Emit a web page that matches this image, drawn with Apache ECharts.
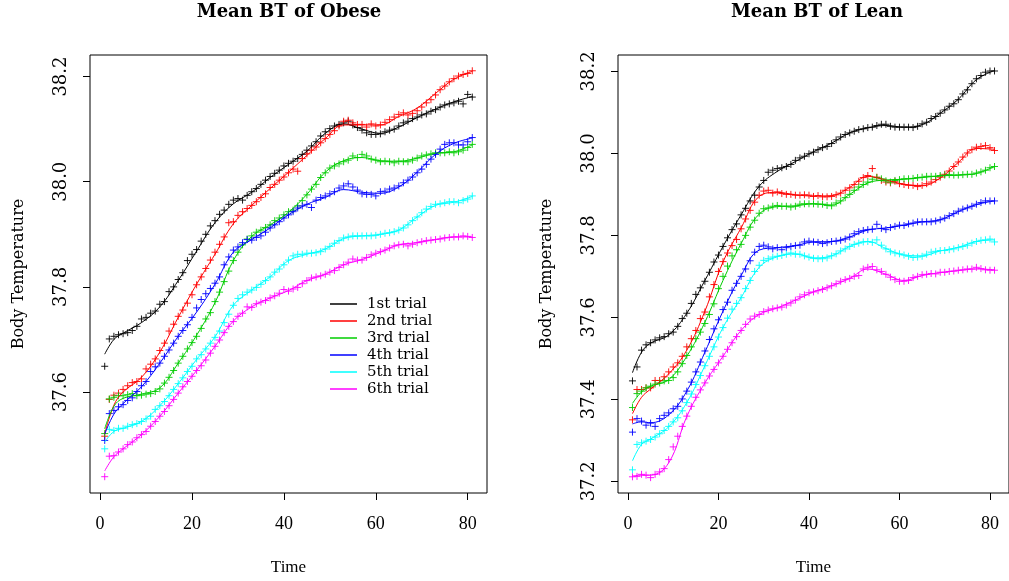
<!DOCTYPE html>
<html><head><meta charset="utf-8">
<script src="https://cdn.jsdelivr.net/npm/echarts@6/dist/echarts.min.js"></script>
<style>html,body{margin:0;padding:0;background:#fff}#c{width:1009px;height:581px}</style>
</head><body><div id="c"></div>
<script>
// ---- data ----
const times = [1,2,3,4,5,6,7,8,9,10,11,12,13,14,15,16,17,18,19,20,21,22,23,24,25,26,27,28,29,30,31,32,33,34,35,36,37,38,39,40,41,42,43,44,45,46,47,48,49,50,51,52,53,54,55,56,57,58,59,60,61,62,63,64,65,66,67,68,69,70,71,72,73,74,75,76,77,78,79,80,81];
const trials = ['1st trial','2nd trial','3rd trial','4th trial','5th trial','6th trial'];
const xTicks = [0,20,40,60,80];
const obeseTicks = [37.6,37.8,38.0,38.2];
const leanTicks = [37.2,37.4,37.6,37.8,38.0,38.2];

// Obese: measured points
const obese1 = [37.649,37.701,37.706,37.709,37.711,37.713,37.717,37.725,37.739,37.742,37.750,37.754,37.767,37.772,37.791,37.800,37.814,37.827,37.850,37.862,37.871,37.887,37.900,37.916,37.926,37.938,37.946,37.957,37.965,37.968,37.965,37.974,37.981,37.987,37.995,38.003,38.010,38.016,38.022,38.030,38.035,38.039,38.044,38.052,38.060,38.068,38.076,38.087,38.095,38.101,38.106,38.109,38.112,38.115,38.108,38.103,38.098,38.093,38.090,38.090,38.091,38.095,38.098,38.100,38.106,38.112,38.115,38.120,38.123,38.127,38.129,38.134,38.137,38.142,38.146,38.148,38.150,38.153,38.148,38.166,38.161];
const obese2 = [37.516,37.586,37.594,37.598,37.605,37.612,37.618,37.620,37.625,37.644,37.653,37.663,37.679,37.693,37.716,37.729,37.744,37.756,37.769,37.785,37.804,37.819,37.835,37.851,37.866,37.881,37.895,37.922,37.924,37.936,37.943,37.949,37.955,37.962,37.970,37.977,37.989,37.995,38.003,38.009,38.017,38.024,38.020,38.044,38.053,38.060,38.066,38.074,38.082,38.090,38.097,38.106,38.115,38.117,38.112,38.109,38.109,38.104,38.110,38.106,38.108,38.113,38.118,38.123,38.128,38.131,38.127,38.130,38.135,38.142,38.150,38.156,38.165,38.175,38.182,38.190,38.196,38.201,38.204,38.206,38.211];
const obese3 = [37.521,37.587,37.590,37.593,37.593,37.595,37.597,37.593,37.594,37.596,37.597,37.601,37.606,37.617,37.628,37.641,37.655,37.668,37.682,37.694,37.706,37.721,37.739,37.751,37.772,37.790,37.810,37.830,37.850,37.866,37.880,37.891,37.897,37.904,37.908,37.913,37.918,37.926,37.931,37.937,37.943,37.946,37.954,37.964,37.975,37.986,37.995,38.008,38.017,38.026,38.030,38.034,38.038,38.041,38.049,38.046,38.052,38.049,38.043,38.041,38.038,38.039,38.038,38.036,38.039,38.038,38.038,38.041,38.045,38.049,38.051,38.053,38.055,38.055,38.055,38.057,38.055,38.057,38.060,38.065,38.071];
const obese4 = [37.508,37.559,37.565,37.572,37.576,37.584,37.589,37.601,37.612,37.620,37.639,37.648,37.655,37.668,37.680,37.693,37.706,37.717,37.728,37.742,37.760,37.776,37.787,37.797,37.807,37.819,37.842,37.857,37.870,37.876,37.884,37.890,37.889,37.894,37.897,37.904,37.912,37.918,37.924,37.931,37.937,37.943,37.950,37.954,37.957,37.951,37.965,37.970,37.973,37.977,37.981,37.988,37.992,37.996,37.990,37.984,37.977,37.976,37.976,37.973,37.981,37.982,37.986,37.988,37.992,37.998,38.003,38.009,38.017,38.024,38.033,38.043,38.052,38.062,38.071,38.074,38.074,38.070,38.070,38.076,38.084];
const obese5 = [37.492,37.529,37.527,37.531,37.531,37.535,37.538,37.540,37.544,37.549,37.554,37.567,37.574,37.582,37.593,37.605,37.616,37.627,37.639,37.649,37.663,37.671,37.682,37.693,37.704,37.716,37.732,37.748,37.765,37.778,37.785,37.790,37.794,37.799,37.805,37.812,37.819,37.828,37.834,37.842,37.851,37.859,37.862,37.862,37.864,37.864,37.865,37.867,37.872,37.877,37.883,37.888,37.893,37.895,37.897,37.897,37.897,37.897,37.897,37.898,37.900,37.902,37.903,37.905,37.908,37.912,37.918,37.926,37.933,37.941,37.948,37.953,37.957,37.958,37.960,37.962,37.962,37.960,37.964,37.967,37.973];
const obese6 = [37.439,37.478,37.479,37.486,37.492,37.500,37.505,37.513,37.519,37.525,37.535,37.544,37.554,37.563,37.574,37.586,37.598,37.610,37.620,37.630,37.641,37.650,37.661,37.674,37.687,37.699,37.713,37.725,37.734,37.744,37.750,37.762,37.761,37.768,37.771,37.774,37.779,37.783,37.788,37.795,37.792,37.796,37.799,37.806,37.812,37.817,37.819,37.821,37.824,37.828,37.831,37.837,37.842,37.847,37.853,37.851,37.851,37.856,37.861,37.864,37.867,37.870,37.874,37.878,37.880,37.881,37.878,37.881,37.884,37.886,37.888,37.889,37.890,37.891,37.893,37.894,37.895,37.895,37.897,37.896,37.894];

// Lean: measured points
const lean1 = [37.445,37.479,37.520,37.533,37.538,37.545,37.550,37.553,37.560,37.564,37.578,37.597,37.610,37.634,37.656,37.672,37.688,37.710,37.735,37.752,37.773,37.794,37.814,37.828,37.850,37.866,37.884,37.898,37.918,37.934,37.954,37.959,37.963,37.965,37.968,37.973,37.983,37.989,37.993,37.999,38.003,38.009,38.014,38.017,38.024,38.033,38.040,38.046,38.050,38.054,38.058,38.060,38.063,38.064,38.068,38.071,38.071,38.066,38.064,38.064,38.064,38.064,38.063,38.066,38.072,38.076,38.085,38.090,38.098,38.106,38.115,38.121,38.131,38.145,38.155,38.170,38.182,38.190,38.198,38.201,38.201];
const lean2 = [37.350,37.424,37.424,37.428,37.428,37.446,37.446,37.455,37.467,37.479,37.489,37.505,37.528,37.548,37.568,37.597,37.613,37.650,37.680,37.712,37.736,37.757,37.775,37.790,37.816,37.840,37.861,37.881,37.898,37.908,37.910,37.903,37.906,37.902,37.900,37.900,37.898,37.898,37.899,37.898,37.895,37.897,37.894,37.894,37.895,37.899,37.903,37.910,37.916,37.924,37.932,37.941,37.946,37.963,37.942,37.934,37.930,37.928,37.932,37.926,37.924,37.922,37.922,37.919,37.922,37.926,37.930,37.936,37.942,37.949,37.957,37.968,37.979,37.991,38.001,38.009,38.015,38.017,38.019,38.014,38.007];
const lean3 = [37.380,37.414,37.420,37.428,37.432,37.437,37.440,37.445,37.446,37.453,37.467,37.487,37.507,37.528,37.548,37.564,37.585,37.607,37.633,37.670,37.700,37.725,37.750,37.765,37.778,37.800,37.820,37.837,37.854,37.865,37.867,37.871,37.873,37.871,37.871,37.869,37.871,37.876,37.877,37.877,37.877,37.876,37.876,37.873,37.872,37.879,37.884,37.892,37.900,37.910,37.918,37.924,37.930,37.937,37.941,37.938,37.933,37.930,37.934,37.936,37.938,37.938,37.939,37.941,37.942,37.944,37.944,37.944,37.946,37.947,37.948,37.947,37.947,37.948,37.949,37.949,37.952,37.955,37.959,37.965,37.968];
const lean4 = [37.320,37.353,37.347,37.337,37.342,37.334,37.353,37.361,37.367,37.377,37.383,37.401,37.420,37.442,37.467,37.491,37.518,37.546,37.572,37.594,37.619,37.637,37.666,37.683,37.700,37.718,37.738,37.759,37.773,37.776,37.772,37.767,37.770,37.765,37.770,37.773,37.775,37.776,37.784,37.786,37.784,37.783,37.780,37.782,37.785,37.786,37.788,37.791,37.796,37.804,37.809,37.812,37.814,37.815,37.827,37.817,37.814,37.819,37.822,37.825,37.824,37.828,37.830,37.833,37.833,37.833,37.833,37.835,37.838,37.842,37.848,37.853,37.859,37.864,37.867,37.871,37.876,37.880,37.884,37.884,37.884];
const lean5 = [37.228,37.290,37.294,37.298,37.302,37.308,37.316,37.324,37.334,37.345,37.355,37.372,37.392,37.413,37.436,37.458,37.482,37.505,37.528,37.552,37.575,37.598,37.620,37.634,37.648,37.670,37.690,37.712,37.727,37.739,37.743,37.747,37.749,37.751,37.754,37.757,37.754,37.754,37.750,37.747,37.744,37.743,37.743,37.745,37.750,37.755,37.762,37.767,37.773,37.778,37.781,37.784,37.785,37.783,37.789,37.776,37.767,37.760,37.757,37.755,37.752,37.749,37.746,37.747,37.749,37.754,37.759,37.761,37.763,37.763,37.765,37.767,37.770,37.773,37.776,37.781,37.785,37.788,37.789,37.791,37.784];
const lean6 = [37.211,37.212,37.217,37.215,37.209,37.217,37.223,37.231,37.253,37.284,37.310,37.334,37.359,37.383,37.405,37.423,37.440,37.457,37.473,37.489,37.505,37.522,37.538,37.553,37.568,37.583,37.596,37.603,37.607,37.614,37.618,37.621,37.623,37.625,37.630,37.635,37.642,37.650,37.655,37.660,37.662,37.665,37.668,37.672,37.677,37.682,37.688,37.692,37.695,37.700,37.702,37.718,37.722,37.724,37.716,37.712,37.705,37.698,37.692,37.688,37.688,37.690,37.697,37.700,37.704,37.705,37.707,37.706,37.710,37.710,37.712,37.713,37.715,37.716,37.718,37.718,37.722,37.719,37.716,37.715,37.715];

// Smoothed fit curves, read at these times
const fitTimes = [1,3,5,9,13,17,21,25,29,33,37,41,45,49,53,57,61,65,69,73,77,81];
const obeseFit1 = [37.672,37.700,37.712,37.732,37.762,37.812,37.868,37.922,37.958,37.980,38.008,38.033,38.058,38.092,38.110,38.100,38.092,38.104,38.122,38.138,38.152,38.162];
const obeseFit2 = [37.520,37.575,37.600,37.628,37.676,37.742,37.805,37.862,37.920,37.955,37.987,38.018,38.050,38.082,38.108,38.108,38.108,38.124,38.140,38.168,38.195,38.210];
const obeseFit3 = [37.530,37.573,37.588,37.596,37.608,37.655,37.708,37.770,37.850,37.896,37.918,37.942,37.976,38.018,38.040,38.046,38.040,38.039,38.045,38.054,38.057,38.070];
const obeseFit4 = [37.520,37.558,37.578,37.610,37.655,37.706,37.752,37.805,37.866,37.890,37.912,37.937,37.957,37.970,37.985,37.980,37.978,37.990,38.018,38.052,38.073,38.083];
const obeseFit5 = [37.505,37.525,37.531,37.544,37.574,37.616,37.662,37.705,37.765,37.794,37.819,37.850,37.862,37.872,37.892,37.897,37.900,37.908,37.933,37.955,37.961,37.972];
const obeseFit6 = [37.450,37.477,37.492,37.519,37.554,37.598,37.641,37.687,37.735,37.762,37.779,37.793,37.812,37.824,37.842,37.852,37.866,37.880,37.884,37.890,37.895,37.895];
const leanFit1 = [37.465,37.515,37.537,37.557,37.610,37.690,37.773,37.850,37.920,37.956,37.980,38.004,38.025,38.050,38.062,38.068,38.064,38.070,38.098,38.132,38.180,38.202];
const leanFit2 = [37.365,37.405,37.425,37.462,37.520,37.615,37.735,37.818,37.895,37.905,37.899,37.896,37.897,37.917,37.944,37.935,37.925,37.921,37.940,37.978,38.012,38.010];
const leanFit3 = [37.390,37.418,37.432,37.448,37.505,37.588,37.690,37.780,37.852,37.870,37.872,37.877,37.874,37.900,37.928,37.935,37.937,37.941,37.945,37.947,37.951,37.968];
const leanFit4 = [37.340,37.345,37.343,37.362,37.420,37.515,37.615,37.702,37.764,37.770,37.775,37.784,37.785,37.796,37.813,37.818,37.825,37.833,37.838,37.858,37.875,37.884];
const leanFit5 = [37.250,37.290,37.303,37.333,37.392,37.482,37.575,37.648,37.722,37.748,37.755,37.745,37.750,37.773,37.785,37.768,37.752,37.750,37.762,37.771,37.785,37.789];
const leanFit6 = [37.213,37.215,37.215,37.245,37.358,37.440,37.505,37.568,37.607,37.623,37.642,37.662,37.677,37.695,37.718,37.705,37.690,37.702,37.709,37.714,37.718,37.716];

// ---- chart ----
const colors = ['#000000','#ff0000','#00cd00','#0000ff','#00ffff','#ff00ff'];
const SERIF = '"DejaVu Serif", serif';
const TIMES = '"Liberation Serif", serif';
const PLUS = 'path://M5,0 L5,10 M0,5 L10,5';
const panels = [
  {pts:[obese1,obese2,obese3,obese4,obese5,obese6], fit:[obeseFit1,obeseFit2,obeseFit3,obeseFit4,obeseFit5,obeseFit6]},
  {pts:[lean1,lean2,lean3,lean4,lean5,lean6], fit:[leanFit1,leanFit2,leanFit3,leanFit4,leanFit5,leanFit6]}
];
const series = [];
panels.forEach((p, pi) => {
  for (let k = 0; k < 6; k++) {
    series.push({
      type: 'scatter', name: trials[k] + ' data', xAxisIndex: pi, yAxisIndex: pi,
      data: p.pts[k].map((v, i) => [times[i], v]),
      symbol: PLUS, symbolSize: 7, silent: true,
      itemStyle: {color: 'rgba(0,0,0,0)', borderColor: colors[k], borderWidth: 1, opacity: 0.9}
    });
    series.push({
      type: 'line', name: trials[k], xAxisIndex: pi, yAxisIndex: pi,
      data: p.fit[k].map((v, i) => [fitTimes[i], v]),
      smooth: 0.4, symbol: 'none', silent: true,
      lineStyle: {color: colors[k], width: 1}, itemStyle: {color: colors[k]}
    });
  }
});
function xAxis(gi) {
  return {
    type: 'value', gridIndex: gi, min: -2.2, max: 84.2,
    axisLine: {show: false, onZero: false}, splitLine: {show: false},
    axisTick: {show: true, inside: false, length: 7, customValues: xTicks, lineStyle: {color: '#000', width: 1}},
    axisLabel: {customValues: xTicks, margin: 22, color: '#000', fontFamily: TIMES, fontSize: 18},
    name: 'Time', nameLocation: 'middle', nameGap: 66,
    nameTextStyle: {color: '#000', fontFamily: TIMES, fontSize: 17}
  };
}
function yAxis(gi, min, max, ticks) {
  return {
    type: 'value', gridIndex: gi, min: min, max: max,
    axisLine: {show: false, onZero: false}, splitLine: {show: false},
    axisTick: {show: true, inside: false, length: 7, customValues: ticks, lineStyle: {color: '#000', width: 1}},
    axisLabel: {customValues: ticks, rotate: 90, margin: 20, color: '#000', fontFamily: SERIF, fontSize: 18,
      formatter: v => v.toFixed(1)},
    name: 'Body Temperature', nameLocation: 'middle', nameGap: 63,
    nameTextStyle: {color: '#000', fontFamily: SERIF, fontSize: 16}
  };
}
const chart = echarts.init(document.getElementById('c'), null, {renderer: 'canvas'});
chart.setOption({
  animation: false,
  backgroundColor: '#ffffff',
  grid: [
    {left: 90, top: 55, width: 397, height: 438, show: true, borderColor: '#000', borderWidth: 1, backgroundColor: 'rgba(0,0,0,0)'},
    {left: 618, top: 55, width: 397, height: 438, show: true, borderColor: '#000', borderWidth: 1, backgroundColor: 'rgba(0,0,0,0)'}
  ],
  xAxis: [xAxis(0), xAxis(1)],
  yAxis: [yAxis(0, 37.408, 38.241, obeseTicks), yAxis(1, 37.1715, 38.240, leanTicks)],
  legend: {
    data: trials.map((n, k) => ({name: n, icon: 'rect', itemStyle: {color: colors[k], opacity: 0.75}})),
    orient: 'vertical', left: 330, top: 296.5, padding: 0,
    itemWidth: 27, itemHeight: 2, itemGap: 2,
    selectedMode: false,
    textStyle: {color: '#000', fontFamily: SERIF, fontSize: 15, lineHeight: 14, padding: [0, 0, 0, 5]}
  },
  graphic: [
    {type: 'text', x: 289, y: 12, style: {text: 'Mean BT of Obese', textAlign: 'center', textVerticalAlign: 'middle', font: 'bold 18px ' + SERIF, fill: '#000'}},
    {type: 'text', x: 817, y: 12, style: {text: 'Mean BT of Lean', textAlign: 'center', textVerticalAlign: 'middle', font: 'bold 18px ' + SERIF, fill: '#000'}}
  ],
  series: series
});
</script>
</body></html>
